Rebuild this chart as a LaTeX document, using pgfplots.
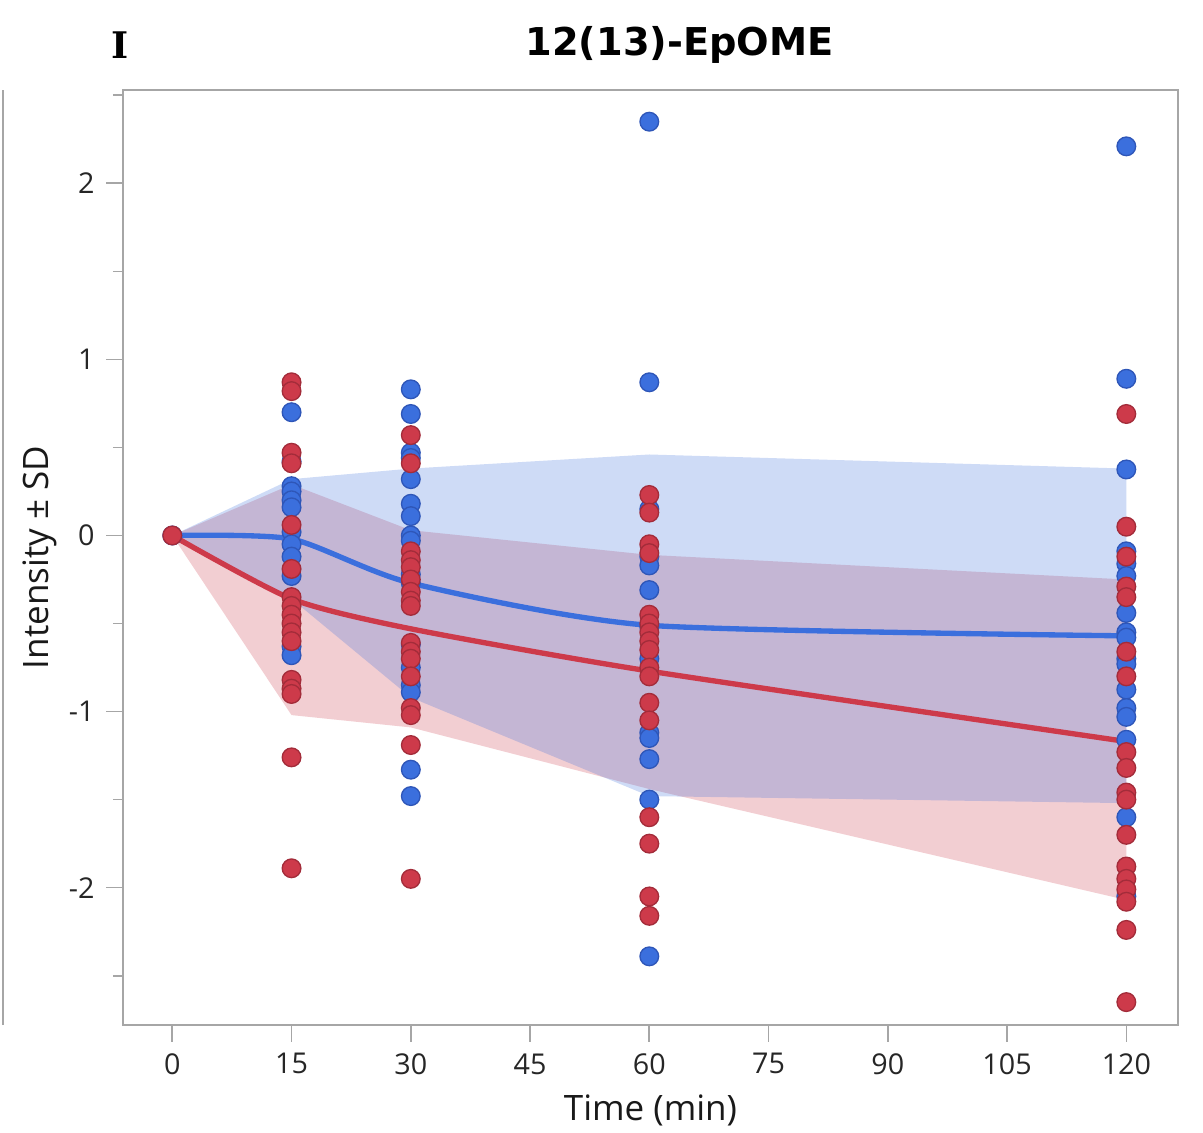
\documentclass[border=0pt]{standalone}
\usepackage{pgfplots}
\pgfplotsset{compat=1.18}
\usepackage{fontspec}
\setmainfont{Open Sans}
\newfontfamily\titlefont{DejaVu Sans}
\newfontfamily\letterfont{DejaVu Serif}
\definecolor{pblue}{HTML}{3B6FDD}
\definecolor{pblueD}{HTML}{2E56B8}
\definecolor{pred}{HTML}{CD3A4A}
\definecolor{predD}{HTML}{A32C3A}
\definecolor{frame}{HTML}{A6A6A6}
\begin{document}
\begin{tikzpicture}
\path[use as bounding box] (-36.9pt,-32.1pt) rectangle (324pt,307.5pt);
\draw[frame, line width=0.6pt] (-36pt,0pt) -- (-36pt,280.5pt);
\begin{axis}[
  at={(0,0)}, anchor=south west,
  scale only axis, width=316.5pt, height=280.5pt,
  xmin=-6.2, xmax=126.5, ymin=-2.78, ymax=2.53,
  axis line style={frame, line width=0.6pt},
  xtick={0,15,...,120},
  ytick={-2,-1,0,1,2},
  minor ytick={-2.5,-1.5,-0.5,0.5,1.5,2.5},
  tick pos=left, tick align=outside,
  tick style={frame, line width=0.5pt},
  major tick length=5pt, minor tick length=3pt,
  /pgf/number format/assume math mode=true,
  tick label style={font=\fontsize{8.6}{10}\selectfont, text=black!85},
  xlabel={Time (min)}, ylabel={Intensity ± SD},
  label style={font=\fontsize{10.5}{12}\selectfont, text=black!90},
  xlabel style={at={(axis description cs:0.5,-0.091)}, anchor=center},
  ylabel style={at={(axis description cs:-0.079,0.5)}, anchor=center},
  clip=true,
]
% blue points
\addplot[only marks, mark=*, mark size=2.8pt, mark options={fill=pblue, draw=pblueD, line width=0.4pt}] table {
x y
0 0
15 0.70
15 0.42
15 0.28
15 0.25
15 0.20
15 0.16
15 0.02
15 -0.05
15 -0.12
15 -0.23
15 -0.63
15 -0.68
30 0.83
30 0.69
30 0.47
30 0.44
30 0.32
30 0.18
30 0.11
30 0.00
30 -0.03
30 -0.22
30 -0.27
30 -0.62
30 -0.75
30 -0.85
30 -0.89
30 -1.33
30 -1.48
60 2.35
60 0.87
60 0.15
60 -0.12
60 -0.17
60 -0.31
60 -0.52
60 -0.70
60 -1.12
60 -1.15
60 -1.27
60 -1.50
60 -2.39
120 2.21
120 0.89
120 0.375
120 -0.09
120 -0.16
120 -0.23
120 -0.44
120 -0.55
120 -0.58
120 -0.70
120 -0.73
120 -0.875
120 -0.98
120 -1.03
120 -1.16
120 -1.60
120 -2.05
};
% red points
\addplot[only marks, mark=*, mark size=2.8pt, mark options={fill=pred, draw=predD, line width=0.4pt}] table {
x y
0 0
15 0.87
15 0.82
15 0.47
15 0.41
15 0.06
15 -0.19
15 -0.35
15 -0.40
15 -0.45
15 -0.50
15 -0.55
15 -0.60
15 -0.82
15 -0.87
15 -0.90
15 -1.26
15 -1.89
30 0.57
30 0.41
30 -0.09
30 -0.14
30 -0.18
30 -0.25
30 -0.32
30 -0.37
30 -0.40
30 -0.61
30 -0.66
30 -0.70
30 -0.80
30 -0.98
30 -1.02
30 -1.19
30 -1.95
60 0.23
60 0.13
60 -0.05
60 -0.10
60 -0.45
60 -0.50
60 -0.55
60 -0.60
60 -0.65
60 -0.75
60 -0.80
60 -0.95
60 -1.05
60 -1.60
60 -1.75
60 -2.05
60 -2.16
120 0.69
120 0.05
120 -0.12
120 -0.29
120 -0.35
120 -0.66
120 -0.80
120 -1.23
120 -1.32
120 -1.46
120 -1.50
120 -1.70
120 -1.88
120 -1.95
120 -2.01
120 -2.08
120 -2.24
120 -2.65
};
% SD bands
\addplot[draw=none, fill=pred, fill opacity=0.25] coordinates {
(0,0) (15,0.29) (30,0.03) (60,-0.11) (120,-0.25)
(120,-2.07) (60,-1.44) (30,-1.09) (15,-1.02) (0,0)};
\addplot[draw=none, fill=pblue, fill opacity=0.25] coordinates {
(0,0) (15,0.32) (30,0.38) (60,0.46) (120,0.38)
(120,-1.52) (60,-1.48) (30,-0.92) (15,-0.36) (0,0)};
% mean lines
\addplot[pblue, line width=1.6pt, smooth, tension=0.4] coordinates {
(0,0) (15,-0.02) (30,-0.27) (60,-0.51) (120,-0.57)};
\addplot[pred, line width=1.6pt, smooth, tension=0.4] coordinates {
(0,0) (15,-0.36) (30,-0.53) (60,-0.77) (120,-1.17)};
\end{axis}
\node[font=\titlefont\bfseries\fontsize{11.5}{14}\selectfont] at (167pt,294pt) {12(13)-EpOME};
\node[font=\letterfont\bfseries\fontsize{11}{14}\selectfont] at (-0.9pt,294pt) {I};
\end{tikzpicture}
\end{document}
